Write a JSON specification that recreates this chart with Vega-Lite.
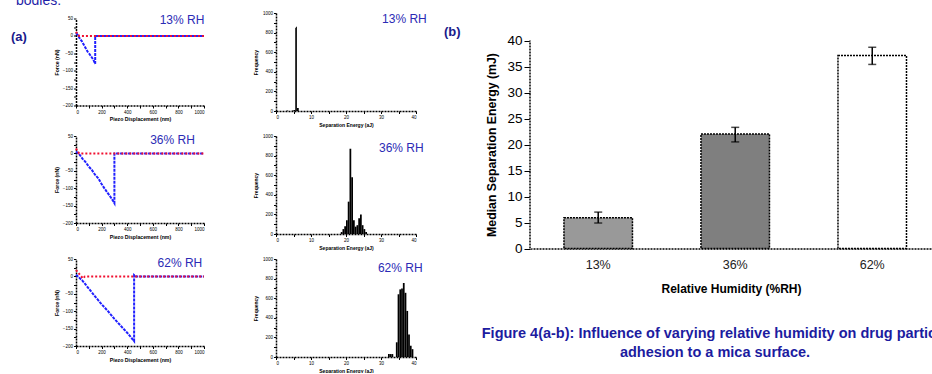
{
 "$schema": "https://vega.github.io/schema/vega-lite/v6.json",
 "padding": {"left": 10, "top": -6, "right": -12, "bottom": 0},
 "background": "white",
 "title": {"text": "bodies:", "anchor": "start", "fontSize": 14, "fontWeight": "normal", "color": "#1f1fa8", "dx": 5, "offset": 2},
 "datasets": {
  "force": [
   {"rh":"13%","c":"retract","i":0,"x":0,"y":8},{"rh":"13%","c":"retract","i":1,"x":15,"y":2},{"rh":"13%","c":"retract","i":2,"x":30,"y":-8},{"rh":"13%","c":"retract","i":3,"x":45,"y":-15},{"rh":"13%","c":"retract","i":4,"x":60,"y":-25},{"rh":"13%","c":"retract","i":5,"x":75,"y":-35},{"rh":"13%","c":"retract","i":6,"x":90,"y":-45},{"rh":"13%","c":"retract","i":7,"x":105,"y":-52},{"rh":"13%","c":"retract","i":8,"x":120,"y":-60},{"rh":"13%","c":"retract","i":9,"x":135,"y":-68},{"rh":"13%","c":"retract","i":10,"x":150,"y":-80},{"rh":"13%","c":"retract","i":11,"x":150,"y":-40},{"rh":"13%","c":"retract","i":12,"x":150,"y":0},{"rh":"13%","c":"retract","i":13,"x":400,"y":0},{"rh":"13%","c":"retract","i":14,"x":700,"y":0},{"rh":"13%","c":"retract","i":15,"x":1000,"y":0},
   {"rh":"13%","c":"approach","i":0,"x":0,"y":12},{"rh":"13%","c":"approach","i":1,"x":12,"y":6},{"rh":"13%","c":"approach","i":2,"x":25,"y":0},{"rh":"13%","c":"approach","i":3,"x":1000,"y":0},
   {"rh":"36%","c":"retract","i":0,"x":0,"y":5},{"rh":"36%","c":"retract","i":1,"x":25,"y":-2},{"rh":"36%","c":"retract","i":2,"x":50,"y":-15},{"rh":"36%","c":"retract","i":3,"x":75,"y":-25},{"rh":"36%","c":"retract","i":4,"x":100,"y":-38},{"rh":"36%","c":"retract","i":5,"x":125,"y":-48},{"rh":"36%","c":"retract","i":6,"x":150,"y":-62},{"rh":"36%","c":"retract","i":7,"x":175,"y":-72},{"rh":"36%","c":"retract","i":8,"x":200,"y":-88},{"rh":"36%","c":"retract","i":9,"x":225,"y":-102},{"rh":"36%","c":"retract","i":10,"x":250,"y":-115},{"rh":"36%","c":"retract","i":11,"x":275,"y":-128},{"rh":"36%","c":"retract","i":12,"x":300,"y":-143},{"rh":"36%","c":"retract","i":13,"x":300,"y":-70},{"rh":"36%","c":"retract","i":14,"x":300,"y":0},{"rh":"36%","c":"retract","i":15,"x":1000,"y":0},
   {"rh":"36%","c":"approach","i":0,"x":0,"y":14},{"rh":"36%","c":"approach","i":1,"x":12,"y":6},{"rh":"36%","c":"approach","i":2,"x":25,"y":0},{"rh":"36%","c":"approach","i":3,"x":1000,"y":0},
   {"rh":"62%","c":"retract","i":0,"x":0,"y":5},{"rh":"62%","c":"retract","i":1,"x":50,"y":-12},{"rh":"62%","c":"retract","i":2,"x":100,"y":-35},{"rh":"62%","c":"retract","i":3,"x":150,"y":-58},{"rh":"62%","c":"retract","i":4,"x":200,"y":-80},{"rh":"62%","c":"retract","i":5,"x":250,"y":-100},{"rh":"62%","c":"retract","i":6,"x":300,"y":-122},{"rh":"62%","c":"retract","i":7,"x":350,"y":-142},{"rh":"62%","c":"retract","i":8,"x":400,"y":-162},{"rh":"62%","c":"retract","i":9,"x":454,"y":-186},{"rh":"62%","c":"retract","i":10,"x":454,"y":-90},{"rh":"62%","c":"retract","i":11,"x":454,"y":4},{"rh":"62%","c":"retract","i":12,"x":470,"y":0},{"rh":"62%","c":"retract","i":13,"x":1000,"y":0},
   {"rh":"62%","c":"approach","i":0,"x":0,"y":18},{"rh":"62%","c":"approach","i":1,"x":30,"y":5},{"rh":"62%","c":"approach","i":2,"x":55,"y":-6},{"rh":"62%","c":"approach","i":3,"x":70,"y":0},{"rh":"62%","c":"approach","i":4,"x":1000,"y":0}
  ],
  "hist": [
   {"rh":"13%","x":3,"x2":3.5,"y":5},{"rh":"13%","x":4.5,"x2":5,"y":5},{"rh":"13%","x":5,"x2":5.5,"y":10},{"rh":"13%","x":5.5,"x2":5.75,"y":850},{"rh":"13%","x":5.75,"x2":6,"y":860},{"rh":"13%","x":6,"x2":6.5,"y":30},
   {"rh":"36%","x":18.5,"x2":19,"y":20},{"rh":"36%","x":19,"x2":19.5,"y":50},{"rh":"36%","x":19.5,"x2":20,"y":80},{"rh":"36%","x":20,"x2":20.5,"y":140},{"rh":"36%","x":20.5,"x2":21,"y":330},{"rh":"36%","x":21,"x2":21.5,"y":870},{"rh":"36%","x":21.5,"x2":22,"y":580},{"rh":"36%","x":22,"x2":22.5,"y":140},{"rh":"36%","x":22.5,"x2":23,"y":75},{"rh":"36%","x":23,"x2":23.5,"y":90},{"rh":"36%","x":23.5,"x2":24,"y":160},{"rh":"36%","x":24,"x2":24.5,"y":200},{"rh":"36%","x":24.5,"x2":25,"y":90},{"rh":"36%","x":25,"x2":25.5,"y":50},{"rh":"36%","x":25.5,"x2":26,"y":20},
   {"rh":"62%","x":32,"x2":32.5,"y":30},{"rh":"62%","x":32.5,"x2":33,"y":30},{"rh":"62%","x":33,"x2":33.5,"y":30},{"rh":"62%","x":34.25,"x2":34.75,"y":150},{"rh":"62%","x":34.75,"x2":35.25,"y":640},{"rh":"62%","x":35.25,"x2":35.75,"y":690},{"rh":"62%","x":35.75,"x2":36.25,"y":700},{"rh":"62%","x":36.25,"x2":36.75,"y":755},{"rh":"62%","x":36.75,"x2":37.25,"y":655},{"rh":"62%","x":37.25,"x2":37.75,"y":470},{"rh":"62%","x":37.75,"x2":38.25,"y":230},{"rh":"62%","x":38.25,"x2":38.75,"y":115},{"rh":"62%","x":38.75,"x2":39.25,"y":80}
  ],
  "bars": [
   {"rh":"13%","v":5.9,"lo":4.9,"hi":7.0},
   {"rh":"36%","v":22.0,"lo":20.5,"hi":23.3},
   {"rh":"62%","v":37.1,"lo":35.4,"hi":38.7}
  ]
 },
 "hconcat": [
  {
   "concat": [
    {
     "width": 128, "height": 87,
     "data": {"name": "force"},
     "encoding": {
      "x": {"field": "x", "type": "quantitative", "scale": {"domain": [0, 1000], "nice": false}, "axis": {"values": [0,100,200,300,400,500,600,700,800,900,1000], "labelExpr": "datum.value % 200 == 0 ? datum.label : ''", "format": "d", "title": "Piezo Displacement (nm)", "labelFontSize": 4.5, "titleFontSize": 5.2, "titleFontWeight": "bold", "tickSize": 2.5, "labelPadding": 1, "titlePadding": 3}},
      "y": {"field": "y", "type": "quantitative", "scale": {"domain": [-200, 50], "nice": false}, "axis": {"values": [-200,-175,-150,-125,-100,-75,-50,-25,0,25,50], "labelExpr": "datum.value % 50 == 0 ? datum.label : ''", "format": "d", "title": "Force (nN)", "labelFontSize": 4.5, "titleFontSize": 5.2, "titleFontWeight": "bold", "tickSize": 2.5, "labelPadding": 1, "titlePadding": 2.5}}
     },
     "layer": [
      {"transform": [{"filter": "datum.rh == '13%' && datum.c == 'retract'"}], "mark": {"type": "line", "color": "#2020ff", "strokeWidth": 2, "strokeDash": [3, 1]}, "encoding": {"order": {"field": "i", "type": "quantitative"}}},
      {"transform": [{"filter": "datum.rh == '13%' && datum.c == 'approach'"}], "mark": {"type": "line", "color": "#f01030", "strokeWidth": 2, "strokeDash": [2, 2]}, "encoding": {"order": {"field": "i", "type": "quantitative"}}},
      {"data": {"values": [{"t": "13% RH", "x": 828, "y": 47}]}, "mark": {"type": "text", "fontSize": 12, "color": "#2b2bb5"}, "encoding": {"text": {"field": "t"}}},
      {"data": {"values": [{"t": "(a)", "x": -508, "y": -2}]}, "mark": {"type": "text", "fontSize": 13, "fontWeight": "bold", "align": "left", "color": "#1a1a8c"}, "encoding": {"text": {"field": "t"}}}
     ]
    },
    {
     "width": 140, "height": 98,
     "data": {"name": "hist"},
     "encoding": {
      "x": {"field": "x", "type": "quantitative", "scale": {"domain": [0, 40], "nice": false}, "axis": {"values": [0,5,10,15,20,25,30,35,40], "labelExpr": "datum.value % 10 == 0 ? datum.label : ''", "format": "d", "title": "Separation Energy (aJ)", "labelFontSize": 4.5, "titleFontSize": 5, "titleFontWeight": "bold", "tickSize": 2.5, "labelPadding": 1, "titlePadding": 3}},
      "y": {"field": "y", "type": "quantitative", "scale": {"domain": [0, 1000], "nice": false}, "axis": {"values": [0,100,200,300,400,500,600,700,800,900,1000], "labelExpr": "datum.value % 200 == 0 ? datum.label : ''", "format": "d", "title": "Frequency", "labelFontSize": 4.5, "titleFontSize": 5, "titleFontWeight": "bold", "tickSize": 2.5, "labelPadding": 1, "titlePadding": 4}}
     },
     "layer": [
      {"transform": [{"filter": "datum.rh == '13%'"}], "mark": {"type": "bar", "color": "#000000"}, "encoding": {"x2": {"field": "x2"}, "y2": {"datum": 0}}},
      {"data": {"values": [{"t": "13% RH", "x": 36.7, "y": 939}]}, "mark": {"type": "text", "fontSize": 12, "color": "#2b2bb5"}, "encoding": {"text": {"field": "t"}}},
      {"data": {"values": [{"t": "(b)", "x": 48, "y": 804}]}, "mark": {"type": "text", "fontSize": 13, "fontWeight": "bold", "align": "left", "color": "#1a1a8c"}, "encoding": {"text": {"field": "t"}}}
     ]
    },
    {
     "width": 128, "height": 87,
     "data": {"name": "force"},
     "encoding": {
      "x": {"field": "x", "type": "quantitative", "scale": {"domain": [0, 1000], "nice": false}, "axis": {"values": [0,100,200,300,400,500,600,700,800,900,1000], "labelExpr": "datum.value % 200 == 0 ? datum.label : ''", "format": "d", "title": "Piezo Displacement (nm)", "labelFontSize": 4.5, "titleFontSize": 5.2, "titleFontWeight": "bold", "tickSize": 2.5, "labelPadding": 1, "titlePadding": 3}},
      "y": {"field": "y", "type": "quantitative", "scale": {"domain": [-200, 50], "nice": false}, "axis": {"values": [-200,-175,-150,-125,-100,-75,-50,-25,0,25,50], "labelExpr": "datum.value % 50 == 0 ? datum.label : ''", "format": "d", "title": "Force (nN)", "labelFontSize": 4.5, "titleFontSize": 5.2, "titleFontWeight": "bold", "tickSize": 2.5, "labelPadding": 1, "titlePadding": 2.5}}
     },
     "layer": [
      {"transform": [{"filter": "datum.rh == '36%' && datum.c == 'retract'"}], "mark": {"type": "line", "color": "#2020ff", "strokeWidth": 2, "strokeDash": [3, 1]}, "encoding": {"order": {"field": "i", "type": "quantitative"}}},
      {"transform": [{"filter": "datum.rh == '36%' && datum.c == 'approach'"}], "mark": {"type": "line", "color": "#f01030", "strokeWidth": 2, "strokeDash": [2, 2]}, "encoding": {"order": {"field": "i", "type": "quantitative"}}},
      {"data": {"values": [{"t": "36% RH", "x": 754, "y": 39}]}, "mark": {"type": "text", "fontSize": 12, "color": "#2b2bb5"}, "encoding": {"text": {"field": "t"}}}
     ]
    },
    {
     "width": 140, "height": 98,
     "data": {"name": "hist"},
     "encoding": {
      "x": {"field": "x", "type": "quantitative", "scale": {"domain": [0, 40], "nice": false}, "axis": {"values": [0,5,10,15,20,25,30,35,40], "labelExpr": "datum.value % 10 == 0 ? datum.label : ''", "format": "d", "title": "Separation Energy (aJ)", "labelFontSize": 4.5, "titleFontSize": 5, "titleFontWeight": "bold", "tickSize": 2.5, "labelPadding": 1, "titlePadding": 3}},
      "y": {"field": "y", "type": "quantitative", "scale": {"domain": [0, 1000], "nice": false}, "axis": {"values": [0,100,200,300,400,500,600,700,800,900,1000], "labelExpr": "datum.value % 200 == 0 ? datum.label : ''", "format": "d", "title": "Frequency", "labelFontSize": 4.5, "titleFontSize": 5, "titleFontWeight": "bold", "tickSize": 2.5, "labelPadding": 1, "titlePadding": 4}}
     },
     "layer": [
      {"transform": [{"filter": "datum.rh == '36%'"}], "mark": {"type": "bar", "color": "#000000"}, "encoding": {"x2": {"field": "x2"}, "y2": {"datum": 0}}},
      {"data": {"values": [{"t": "36% RH", "x": 35.8, "y": 880}]}, "mark": {"type": "text", "fontSize": 12, "color": "#2b2bb5"}, "encoding": {"text": {"field": "t"}}}
     ]
    },
    {
     "width": 128, "height": 87,
     "data": {"name": "force"},
     "encoding": {
      "x": {"field": "x", "type": "quantitative", "scale": {"domain": [0, 1000], "nice": false}, "axis": {"values": [0,100,200,300,400,500,600,700,800,900,1000], "labelExpr": "datum.value % 200 == 0 ? datum.label : ''", "format": "d", "title": "Piezo Displacement (nm)", "labelFontSize": 4.5, "titleFontSize": 5.2, "titleFontWeight": "bold", "tickSize": 2.5, "labelPadding": 1, "titlePadding": 3}},
      "y": {"field": "y", "type": "quantitative", "scale": {"domain": [-200, 50], "nice": false}, "axis": {"values": [-200,-175,-150,-125,-100,-75,-50,-25,0,25,50], "labelExpr": "datum.value % 50 == 0 ? datum.label : ''", "format": "d", "title": "Force (nN)", "labelFontSize": 4.5, "titleFontSize": 5.2, "titleFontWeight": "bold", "tickSize": 2.5, "labelPadding": 1, "titlePadding": 2.5}}
     },
     "layer": [
      {"transform": [{"filter": "datum.rh == '62%' && datum.c == 'retract'"}], "mark": {"type": "line", "color": "#2020ff", "strokeWidth": 2, "strokeDash": [3, 1]}, "encoding": {"order": {"field": "i", "type": "quantitative"}}},
      {"transform": [{"filter": "datum.rh == '62%' && datum.c == 'approach'"}], "mark": {"type": "line", "color": "#f01030", "strokeWidth": 2, "strokeDash": [2, 2]}, "encoding": {"order": {"field": "i", "type": "quantitative"}}},
      {"data": {"values": [{"t": "62% RH", "x": 812, "y": 38}]}, "mark": {"type": "text", "fontSize": 12, "color": "#2b2bb5"}, "encoding": {"text": {"field": "t"}}}
     ]
    },
    {
     "width": 140, "height": 98,
     "data": {"name": "hist"},
     "encoding": {
      "x": {"field": "x", "type": "quantitative", "scale": {"domain": [0, 40], "nice": false}, "axis": {"values": [0,5,10,15,20,25,30,35,40], "labelExpr": "datum.value % 10 == 0 ? datum.label : ''", "format": "d", "title": "Separation Energy (aJ)", "labelFontSize": 4.5, "titleFontSize": 5, "titleFontWeight": "bold", "tickSize": 2.5, "labelPadding": 1, "titlePadding": 3}},
      "y": {"field": "y", "type": "quantitative", "scale": {"domain": [0, 1000], "nice": false}, "axis": {"values": [0,100,200,300,400,500,600,700,800,900,1000], "labelExpr": "datum.value % 200 == 0 ? datum.label : ''", "format": "d", "title": "Frequency", "labelFontSize": 4.5, "titleFontSize": 5, "titleFontWeight": "bold", "tickSize": 2.5, "labelPadding": 1, "titlePadding": 4}}
     },
     "layer": [
      {"transform": [{"filter": "datum.rh == '62%'"}], "mark": {"type": "bar", "color": "#000000"}, "encoding": {"x2": {"field": "x2"}, "y2": {"datum": 0}}},
      {"data": {"values": [{"t": "62% RH", "x": 35.5, "y": 905}]}, "mark": {"type": "text", "fontSize": 12, "color": "#2b2bb5"}, "encoding": {"text": {"field": "t"}}}
     ]
    }
   ],
   "columns": 2,
   "bounds": "flush",
   "center": true,
   "spacing": {"row": 25, "column": 72}
  },
  {
   "vconcat": [
    {
     "width": 402, "height": 235.5,
     "layer": [
      {
       "data": {"name": "bars"},
       "mark": {"type": "bar", "stroke": "black", "strokeWidth": 1.5, "strokeDash": [2, 1]},
       "encoding": {
        "x": {"field": "rh", "type": "nominal", "sort": ["13%", "36%", "62%"], "scale": {"paddingInner": 0.5, "paddingOuter": 0.217, "align": 0.571}, "axis": {"title": "Relative Humidity (%RH)", "titleFontSize": 12, "titleFontWeight": "bold", "labelFontSize": 12.5, "labelColor": "#222222", "labelAngle": 0, "ticks": false, "labelPadding": 10, "titlePadding": 12}},
        "y": {"field": "v", "type": "quantitative", "title": "Median Separation Energy (mJ)", "scale": {"domain": [0, 45.29], "nice": false}, "axis": {"values": [0,5,10,15,20,25,30,35,40], "titleFontSize": 12.3, "titleFontWeight": "bold", "labelFontSize": 13.5, "tickSize": 6, "labelPadding": 2, "titlePadding": 8, "titleY": 131.5, "domainColor": "white"}},
        "fill": {"field": "rh", "type": "nominal", "scale": {"domain": ["13%", "36%", "62%"], "range": ["#999999", "#7f7f7f", "#ffffff"]}, "legend": null}
       }
      },
      {
       "data": {"name": "bars"},
       "mark": {"type": "errorbar", "ticks": {"size": 8, "thickness": 1.5, "color": "black"}, "rule": {"strokeWidth": 1.5, "color": "black"}},
       "encoding": {
        "x": {"field": "rh", "type": "nominal", "sort": ["13%", "36%", "62%"], "scale": {"paddingInner": 0.5, "paddingOuter": 0.217, "align": 0.571}, "axis": null},
        "y": {"field": "lo", "type": "quantitative", "title": "Median Separation Energy (mJ)", "axis": {"values": [0,5,10,15,20,25,30,35,40], "titleFontSize": 12.3, "titleFontWeight": "bold", "labelFontSize": 13.5, "tickSize": 6, "labelPadding": 2, "titlePadding": 8, "titleY": 131.5, "domainColor": "white"}},
        "y2": {"field": "hi"}
       }
      },
      {
       "data": {"values": [{"x": 0, "y0": 0, "y1": 40}]},
       "mark": {"type": "rule", "color": "black", "strokeWidth": 1.5, "strokeDash": [2, 1]},
       "encoding": {
        "x": {"field": "x", "type": "quantitative", "scale": {"domain": [0, 1]}, "axis": null},
        "y": {"field": "y0", "type": "quantitative", "title": "Median Separation Energy (mJ)", "axis": {"values": [0,5,10,15,20,25,30,35,40], "titleFontSize": 12.3, "titleFontWeight": "bold", "labelFontSize": 13.5, "tickSize": 6, "labelPadding": 2, "titlePadding": 8, "titleY": 131.5, "domainColor": "white"}},
        "y2": {"field": "y1"}
       }
      }
     ],
     "resolve": {"scale": {"x": "independent"}}
    },
    {
     "width": 370, "height": 38,
     "data": {"values": [{"line": 1, "t": "Figure 4(a-b): Influence of varying relative humidity on drug particle"}, {"line": 2, "t": "adhesion to a mica surface."}]},
     "mark": {"type": "text", "fontSize": 14.5, "fontWeight": "bold", "color": "#1c1ca0"},
     "encoding": {"y": {"field": "line", "type": "ordinal", "axis": null}, "text": {"field": "t"}}
    }
   ],
   "bounds": "flush",
   "spacing": 75
  }
 ],
 "spacing": 20,
 "center": false,
 "config": {
  "view": {"stroke": null},
  "font": "Liberation Sans",
  "axis": {"grid": false, "domainColor": "black", "domainDash": [2, 1], "domainWidth": 1.5, "tickColor": "black", "tickWidth": 1, "labelColor": "black", "titleColor": "black"}
 }
}
